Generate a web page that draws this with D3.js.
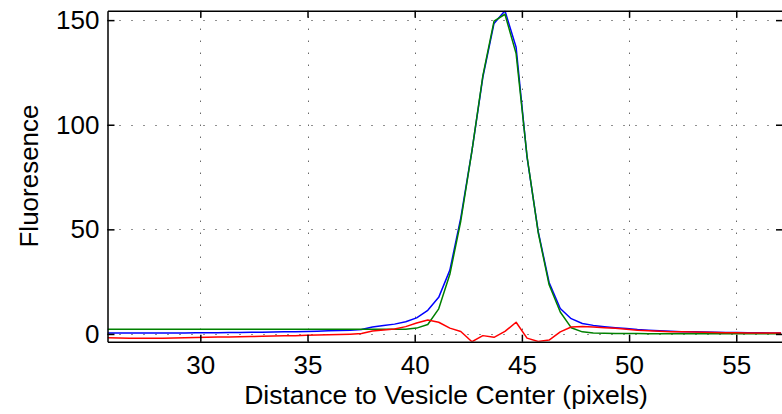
<!DOCTYPE html>
<html>
<head>
<meta charset="utf-8">
<script src="https://cdn.jsdelivr.net/npm/d3@7"></script>
<style>
  html, body { margin: 0; padding: 0; background: #fff; }
  svg { display: block; }
  text { font-family: "Liberation Sans", Arial, Helvetica, sans-serif; fill: #000; }
</style>
</head>
<body>
<svg id="chart" width="782" height="414"></svg>
<script>
// ---- data ----
const xValues = [25.67, 26.19, 26.70, 27.22, 27.73, 28.25, 28.76, 29.28, 29.79, 30.31,
  30.82, 31.34, 31.85, 32.37, 32.88, 33.40, 33.91, 34.43, 34.94, 35.46,
  35.97, 36.49, 37.00, 37.52, 38.03, 38.55, 39.06, 39.58, 40.09, 40.61,
  41.12, 41.64, 42.15, 42.67, 43.18, 43.70, 44.21, 44.73, 45.24, 45.76,
  46.27, 46.79, 47.30, 47.82, 48.33, 48.85, 49.36, 49.88, 50.39, 50.91,
  51.42, 51.94, 52.45, 52.97, 53.48, 54.00, 54.51, 55.03, 55.54, 56.06,
  56.57, 57.09];

const blueValues = [0.4, 0.4, 0.4, 0.4, 0.5, 0.5, 0.5, 0.5, 0.6, 0.6,
  0.6, 0.7, 0.7, 0.8, 0.8, 0.9, 1.0, 1.1, 1.2, 1.3,
  1.5, 1.6, 1.8, 2.1, 3.3, 4.0, 4.7, 5.8, 7.7, 11.3,
  17.5, 30.5, 55.5, 87.5, 122.8, 148.4, 154.5, 137.0, 84.5, 49.0,
  24.6, 12.2, 7.3, 5.0, 4.1, 3.5, 3.0, 2.6, 2.1, 1.8,
  1.5, 1.3, 1.1, 1.0, 0.9, 0.8, 0.7, 0.7, 0.6, 0.6,
  0.5, 0.5];

const greenValues = [2.2, 2.2, 2.2, 2.2, 2.2, 2.2, 2.2, 2.2, 2.2, 2.2,
  2.2, 2.2, 2.2, 2.2, 2.2, 2.2, 2.2, 2.2, 2.2, 2.2,
  2.2, 2.2, 2.2, 2.2, 2.2, 2.2, 2.2, 2.3, 2.8, 4.5,
  12.0, 28.5, 54.0, 87.5, 123.5, 149.5, 152.8, 134.0, 85.0, 48.5,
  23.5, 10.5, 3.0, 1.0, 0.5, 0.3, 0.2, 0.2, 0.2, 0.1,
  0.1, 0.1, 0.1, 0.1, 0.1, 0.1, 0.1, 0.1, 0.1, 0.1,
  0.1, 0.1];

const redValues = [-1.8, -1.9, -2.0, -2.0, -2.0, -2.0, -1.9, -1.8, -1.7, -1.6,
  -1.5, -1.4, -1.3, -1.2, -1.1, -1.0, -0.9, -0.8, -0.6, -0.5,
  -0.4, -0.3, -0.1, 0.2, 1.4, 1.9, 2.4, 3.5, 5.2, 6.7,
  5.6, 2.8, 1.2, -3.7, -0.8, -1.6, 1.2, 5.6, -2.0, -3.6,
  -2.9, 1.0, 3.3, 3.6, 3.3, 3.0, 2.7, 2.3, 1.8, 1.5,
  1.3, 1.1, 1.0, 0.9, 0.8, 0.7, 0.6, 0.6, 0.5, 0.5,
  0.4, 0.4];

const xTicks = [30, 35, 40, 45, 50, 55];
const yTicks = [0, 50, 100, 150];
const xLabel = "Distance to Vesicle Center (pixels)";
const yLabel = "Fluoresence";

// ---- layout ----
const svg = d3.select("#chart");
const L = 107.5, R = 783, T = 10.7, B = 341.7;
const x = d3.scaleLinear().domain([25.67, 57.18]).range([L, R]);
const y = d3.scaleLinear().domain([-3.7, 154.5]).range([B, T]);

svg.append("defs").append("clipPath").attr("id", "clip")
  .append("rect").attr("x", L).attr("y", T).attr("width", R - L).attr("height", B - T);

// grid
const grid = svg.append("g").attr("stroke", "#222").attr("stroke-width", 1)
  .attr("stroke-dasharray", "1,11");
grid.selectAll("line.vx").data(xTicks).join("line")
  .attr("x1", d => Math.round(x(d)) + 0.5).attr("x2", d => Math.round(x(d)) + 0.5)
  .attr("y1", B).attr("y2", T);
grid.selectAll("line.hy").data(yTicks).join("line")
  .attr("y1", d => Math.round(y(d)) + 0.5).attr("y2", d => Math.round(y(d)) + 0.5)
  .attr("x1", L).attr("x2", R);

// lines
const lineGen = vals => d3.line().x((d, i) => x(xValues[i])).y(d => y(d))(vals);
const plot = svg.append("g").attr("clip-path", "url(#clip)").attr("fill", "none")
  .attr("stroke-width", 1.5).attr("stroke-linejoin", "round");
plot.append("path").attr("d", lineGen(blueValues)).attr("stroke", "#0000ff");
plot.append("path").attr("d", lineGen(greenValues)).attr("stroke", "#008000");
plot.append("path").attr("d", lineGen(redValues)).attr("stroke", "#ff0000");

// axes (MATLAB style, ticks inward, box)
const tickLen = 7;
const xAxisB = d3.axisBottom(x).tickValues(xTicks).tickSizeInner(-tickLen).tickSizeOuter(0).tickPadding(14);
const gxb = svg.append("g").attr("transform", `translate(0,${B})`).call(xAxisB);
const xAxisT = d3.axisTop(x).tickValues(xTicks).tickSizeInner(-tickLen).tickSizeOuter(0).tickFormat("");
const gxt = svg.append("g").attr("transform", `translate(0,${T})`).call(xAxisT);
const yAxisL = d3.axisLeft(y).tickValues(yTicks).tickSizeInner(-tickLen).tickSizeOuter(0).tickPadding(8);
const gyl = svg.append("g").attr("transform", `translate(${L},0)`).call(yAxisL);
const yAxisR = d3.axisRight(y).tickValues(yTicks).tickSizeInner(-tickLen).tickSizeOuter(0).tickFormat("");
const gyr = svg.append("g").attr("transform", `translate(${R},0)`).call(yAxisR);

[gxb, gxt, gyl, gyr].forEach(g => {
  g.select(".domain").attr("stroke", "#000").attr("stroke-width", 1.5);
  g.selectAll(".tick line").attr("stroke", "#000").attr("stroke-width", 1.5);
  g.selectAll(".tick text").attr("font-size", 26)
    .attr("font-family", '"Liberation Sans", Arial, Helvetica, sans-serif').attr("fill", "#000");
});
gxb.selectAll(".tick text").attr("dy", "0.71em");

svg.append("text").attr("x", 446).attr("y", 404)
  .attr("text-anchor", "middle").attr("font-size", 26.5).text(xLabel);
svg.append("text").attr("transform", `translate(38,176) rotate(-90)`)
  .attr("text-anchor", "middle").attr("font-size", 26).text(yLabel);
</script>
</body>
</html>
